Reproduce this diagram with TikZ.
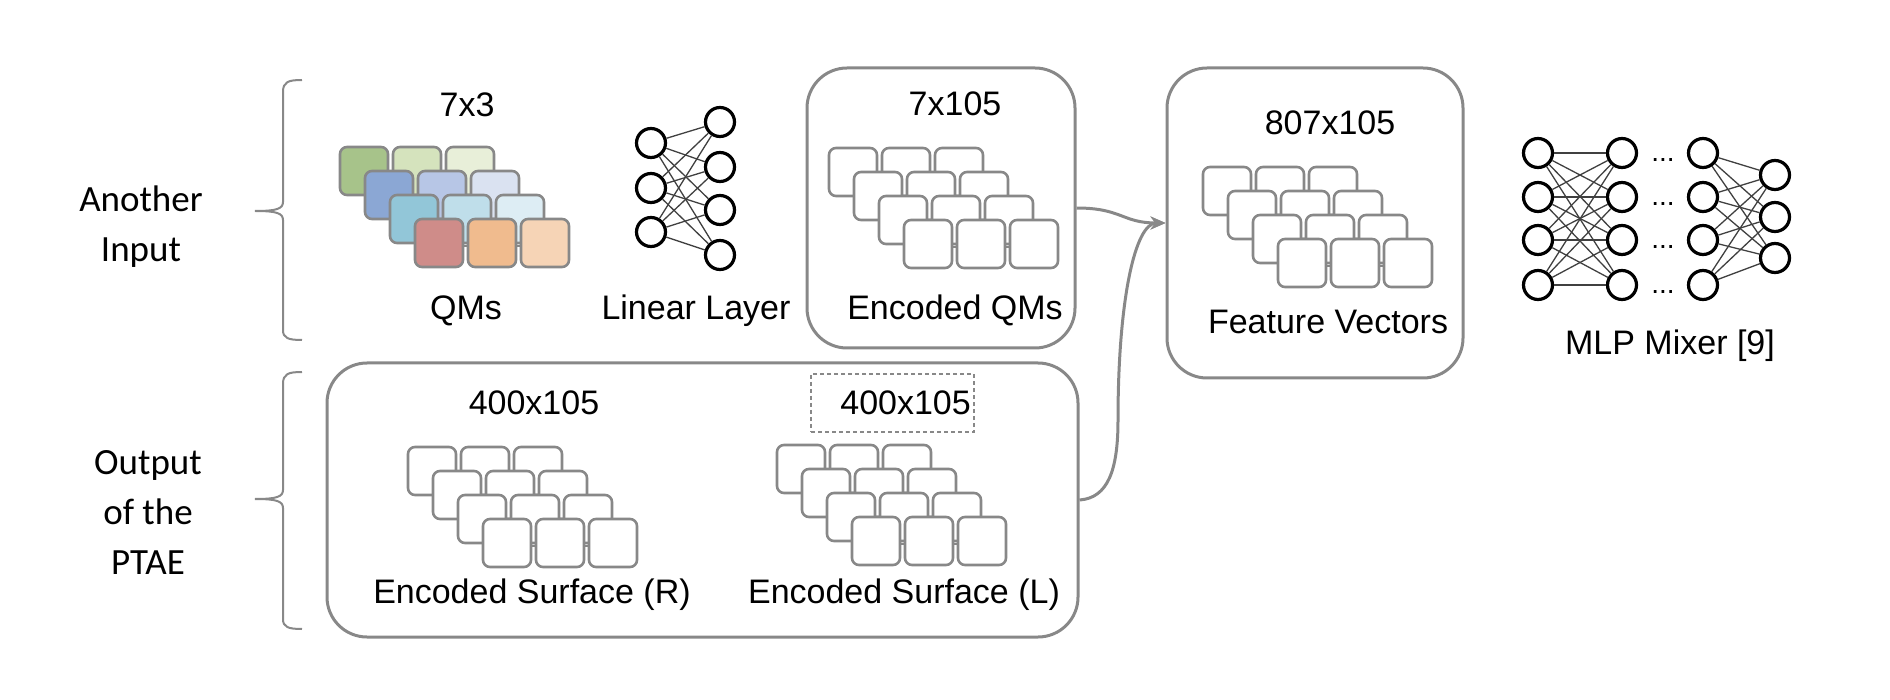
\documentclass[tikz,border=0pt]{standalone}
\usepackage{fontspec}
\setmainfont{Liberation Sans}
\newfontfamily\sidefont{Carlito}
\usetikzlibrary{arrows.meta}
\definecolor{boxgray}{HTML}{888888}
\definecolor{gA}{HTML}{A7C38A}\definecolor{gB}{HTML}{D5E3BD}\definecolor{gC}{HTML}{E8EFD9}
\definecolor{bA}{HTML}{8BA7D4}\definecolor{bB}{HTML}{B7C6E6}\definecolor{bC}{HTML}{DAE2F1}
\definecolor{cA}{HTML}{92C6D8}\definecolor{cB}{HTML}{BFDEEA}\definecolor{cC}{HTML}{DDEDF4}
\definecolor{oA}{HTML}{CF8C89}\definecolor{oB}{HTML}{F0BB8E}\definecolor{oC}{HTML}{F6D4B6}
\tikzset{
  bigbox/.style={draw=boxgray, line width=3pt, rounded corners=40pt, inner sep=0pt},
  cell/.style={draw=boxgray, line width=2.6pt, rounded corners=7pt, fill=white},
  celllink/.style={draw=boxgray, line width=2.6pt},
  lbl/.style={font=\fontsize{34}{40}\selectfont, text=black, inner sep=0pt, anchor=base},
  neuron/.style={circle, draw=black, line width=3.2pt, minimum size=29pt, inner sep=0pt, fill=white},
  wire/.style={line width=1.3pt, draw=black!75},
  arr/.style={draw=boxgray, line width=3pt, -{Stealth[length=15pt,width=13pt]}},
  bracepath/.style={draw=boxgray, line width=2pt},
  side/.style={font=\sidefont\fontsize{37}{50}\selectfont, align=center, inner sep=0pt, text=black},
  dashbox/.style={draw=boxgray, line width=1.5pt, dash pattern=on 4pt off 3pt, inner sep=0pt},
  dots/.style={font=\fontsize{28}{30}\selectfont, inner sep=0pt, anchor=base, text=black}
}
% plain tensor grid: #1,#2 = top-left
\newcommand{\tgrid}[2]{%
  \foreach \r in {0,1,2,3}{%
    \foreach \c in {0,1,2}{%
      \draw[cell] ({#1+25*\r+53*\c},{#2+24*\r}) rectangle ++(48,48);}
    \draw[celllink] ({#1+25*\r+48},{#2+24*\r+27}) -- ++(5,0);
    \draw[celllink] ({#1+25*\r+101},{#2+24*\r+27}) -- ++(5,0);
  }}
\begin{document}
\begin{tikzpicture}[x=1pt,y=-1pt]
\useasboundingbox (0,0) rectangle (1890,700);

% ---------- braces and side labels ----------
\draw[bracepath] (302,80) .. controls (288,80) and (283,82) .. (283,92) -- (283,202)
  .. controls (283,209) and (276,211) .. (255,211) .. controls (276,211) and (283,213) .. (283,220)
  -- (283,330) .. controls (283,338) and (288,340) .. (302,340);
\draw[bracepath] (302,372) .. controls (288,372) and (283,374) .. (283,384) -- (283,490)
  .. controls (283,497) and (276,499) .. (255,499) .. controls (276,499) and (283,501) .. (283,508)
  -- (283,619) .. controls (283,627) and (288,629) .. (302,629);
\node[side] (another) at (141,227) {Another\\Input};
\node[side] (ptae) at (148,512) {Output\\of the\\PTAE};

% ---------- QMs ----------
\node[lbl] (t73) at (467,117) {7x3};
\foreach \r/\ca/\cb/\cc in {0/gA/gB/gC,1/bA/bB/bC,2/cA/cB/cC,3/oA/oB/oC}{
  \draw[cell,fill=\ca] ({340+25*\r},{147+24*\r}) rectangle ++(48,48);
  \draw[cell,fill=\cb] ({393+25*\r},{147+24*\r}) rectangle ++(48,48);
  \draw[cell,fill=\cc] ({446+25*\r},{147+24*\r}) rectangle ++(48,48);
  \draw[celllink] ({388+25*\r},{174+24*\r}) -- ++(5,0);
  \draw[celllink] ({441+25*\r},{174+24*\r}) -- ++(5,0);
}
\node[lbl] (qms) at (466,320) {QMs};

% ---------- Linear layer ----------
\foreach \i/\y in {1/143,2/188,3/232}{\node[neuron] (l\i) at (651,\y) {};}
\foreach \i/\y in {1/122,2/167,3/210,4/255}{\node[neuron] (r\i) at (720,\y) {};}
\foreach \i in {1,2,3}{\foreach \j in {1,2,3,4}{\draw[wire] (l\i) -- (r\j);}}
\node[lbl] (linl) at (696,320) {Linear Layer};

% ---------- Encoded QMs ----------
\node[bigbox, minimum width=268pt, minimum height=280pt] (eq) at (941,208) {};
\node[lbl] (t7105) at (955,116) {7x105};
\tgrid{829}{148}
\node[lbl] (eqlbl) at (955,320) {Encoded QMs};

% ---------- Feature vectors ----------
\node[bigbox, minimum width=296pt, minimum height=310pt] (fv) at (1315,223) {};
\node[lbl] (t807) at (1330,135) {807x105};
\tgrid{1203}{167}
\node[lbl] (fvlbl) at (1328,334) {Feature Vectors};

% ---------- PTAE output box ----------
\node[bigbox, minimum width=751pt, minimum height=274pt] (pb) at (702.5,500) {};
\node[lbl] (t400r) at (534,414) {400x105};
\tgrid{408}{447}
\node[lbl] (esr) at (532,603) {Encoded Surface (R)};
\node[dashbox, minimum width=163pt, minimum height=58pt] (db) at (892.5,403) {};
\node[lbl, anchor=base east] (t400l) at (971,414) {400x105};
\tgrid{777}{445}
\node[lbl] (esl) at (904,603) {Encoded Surface (L)};

% ---------- arrows ----------
\coordinate (bend) at (1118,420);
\draw[arr] (eq.east) .. controls (1122,208) and (1122,223) .. (fv.west);
\draw[arr] (pb.east) .. controls (1108,498) and (1118,470) .. (bend)
  .. controls (1118,300) and (1135,223) .. (fv.west);

% ---------- MLP Mixer ----------
\foreach \i/\y in {1/153,2/197,3/240,4/285}{
  \node[neuron] (a\i) at (1538,\y) {};
  \node[neuron] (b\i) at (1622,\y) {};
  \node[neuron] (c\i) at (1703,\y) {};
  \node[dots] (dd\i) at (1663,{\y+9}) {...};
}
\foreach \i/\y in {1/175,2/217,3/258}{\node[neuron] (d\i) at (1775,\y) {};}
\foreach \i in {1,2,3,4}{\foreach \j in {1,2,3,4}{\draw[wire] (a\i) -- (b\j);}}
\foreach \i in {1,2,3,4}{\foreach \j in {1,2,3}{\draw[wire] (c\i) -- (d\j);}}
\node[lbl] (mlp) at (1670,355) {MLP Mixer [9]};
\end{tikzpicture}
\end{document}
